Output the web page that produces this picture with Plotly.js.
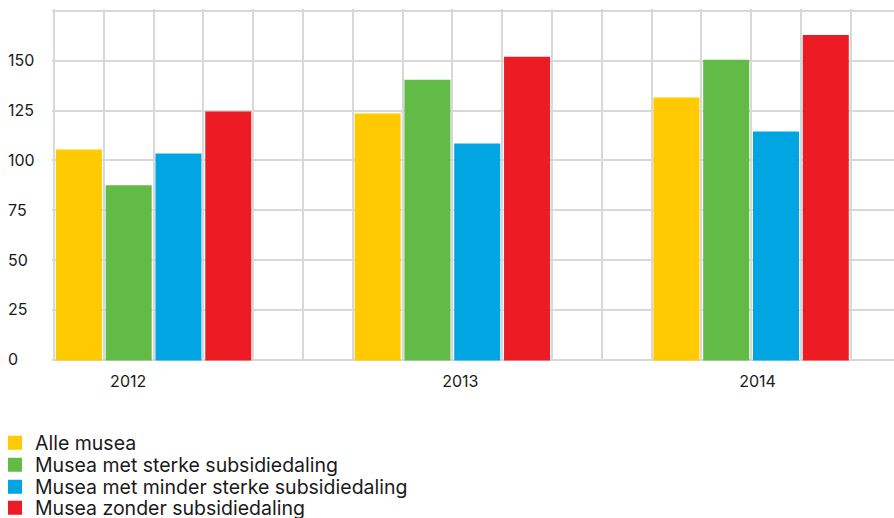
<!DOCTYPE html>
<html>
<head>
<meta charset="utf-8">
<script src="https://cdn.plot.ly/plotly-3.0.1.min.js"></script>
<style>
  html, body { margin: 0; padding: 0; background: #ffffff; }
  #chart { width: 894px; height: 518px; }
</style>
</head>
<body>
<div id="chart"></div>
<script>
// ---- data ----
const years = ['2012', '2013', '2014'];
const seriesNames = [
  'Alle musea',
  'Musea met sterke subsidiedaling',
  'Musea met minder sterke subsidiedaling',
  'Musea zonder subsidiedaling'
];
const alleMusea = [105, 123, 131];
const sterkeDaling = [87, 140, 150];
const minderSterkeDaling = [103, 108, 114];
const zonderDaling = [124, 151.5, 162.5];
const yTickValues = [0, 25, 50, 75, 100, 125, 150, 175];
const yTickLabels = ['0', '25', '50', '75', '100', '125', '150', ''];

// ---- styling / layout ----
const colors = ['#FFCB00', '#63BB47', '#00A5E1', '#ED1C24'];
const gridColor = '#d8d8d8';
const fontFamily = 'Inter, "Liberation Sans", Arial, sans-serif';
const textColor = '#1a1a1a';

// group slots on a numeric axis: each bar takes one grid cell, 2 empty cells between groups
const groupX = years.map((_, i) => 2 + 6 * i);
const labelX = [1.49, 8.16, 14.13];

const allSeries = [alleMusea, sterkeDaling, minderSterkeDaling, zonderDaling];
const legendIds = ['legend', 'legend2', 'legend3', 'legend4'];

const traces = allSeries.map((vals, i) => ({
  type: 'bar',
  name: seriesNames[i],
  x: groupX,
  y: vals,
  marker: { color: colors[i], line: { color: colors[i], width: 2 } },
  legend: legendIds[i],
  hoverinfo: 'name+y'
}));

const marginL = 52;
const plotW = 894 - marginL;

const layout = {
  width: 894,
  height: 518,
  paper_bgcolor: '#ffffff',
  plot_bgcolor: '#ffffff',
  margin: { l: marginL, r: 0, t: 9, b: 157, pad: 0, autoexpand: false },
  font: { family: fontFamily, color: textColor, size: 16 },
  barmode: 'group',
  bargap: 1 / 3,
  bargroupgap: 0.116,
  xaxis: {
    type: 'linear',
    range: [-0.04, 16.87],
    tickmode: 'array',
    tickvals: labelX,
    ticktext: years,
    showgrid: false,
    zeroline: false,
    showline: false,
    ticks: '',
    ticklabelstandoff: 9,
    tickfont: { family: fontFamily, size: 16, color: textColor },
    minor: { tickmode: 'linear', tick0: 0, dtick: 1, showgrid: true, gridcolor: gridColor, gridwidth: 2, ticks: '' },
    fixedrange: true
  },
  yaxis: {
    range: [-0.75, 176],
    tickmode: 'array',
    tickvals: yTickValues,
    ticktext: yTickLabels,
    showgrid: true,
    gridcolor: gridColor,
    gridwidth: 2,
    zeroline: false,
    showline: false,
    ticks: '',
    ticklabelposition: 'inside',
    ticklabeloverflow: 'allow',
    ticklabelstandoff: -47,
    tickfont: { family: fontFamily, size: 16, color: textColor },
    fixedrange: true
  },
  showlegend: true
};

const legendCenters = [443, 465, 487, 508];
legendIds.forEach((id, i) => {
  layout[id] = {
    xref: 'paper',
    yref: 'container',
    x: -(marginL + 5) / plotW,
    xanchor: 'left',
    y: 1 - legendCenters[i] / 518,
    yanchor: 'middle',
    bgcolor: 'rgba(0,0,0,0)',
    borderwidth: 0,
    font: { family: fontFamily, size: 19.5, color: textColor },
    itemclick: false,
    itemdoubleclick: false
  };
});

Plotly.newPlot('chart', traces, layout, { displayModeBar: false, staticPlot: true });
</script>
</body>
</html>
